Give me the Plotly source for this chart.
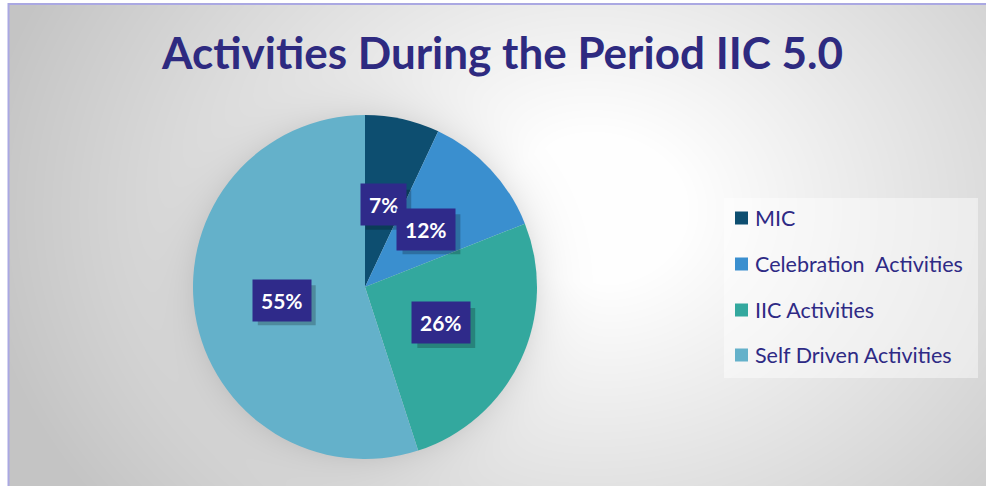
import base64, struct, zlib, math
import numpy as np
import plotly.graph_objects as go

# ---- data ----
categories = ["MIC", "Celebration  Activities", "IIC Activities", "Self Driven Activities"]
values = [7, 12, 26, 55]
colors = ["#0d4e70", "#3a8fcf", "#33a89e", "#64b1ca"]
title_text = "Activities During the Period IIC 5.0"

W, H = 986, 486
# pie geometry (pixels)
CX, CY, R = 365, 287, 172

# ---- background gradient image ----
def make_png(arr):
    h, w, _ = arr.shape
    raw = b"".join(b"\x00" + arr[i].tobytes() for i in range(h))
    def chunk(t, d):
        c = struct.pack(">I", len(d)) + t + d
        return c + struct.pack(">I", zlib.crc32(t + d) & 0xffffffff)
    return (b"\x89PNG\r\n\x1a\n" + chunk(b"IHDR", struct.pack(">IIBBBBB", w, h, 8, 2, 0, 0, 0))
            + chunk(b"IDAT", zlib.compress(raw, 9)) + chunk(b"IEND", b""))

yy, xx = np.mgrid[0:H, 0:W].astype(float)
d = np.sqrt((xx - 590) ** 2 + ((yy - 210) / 0.8) ** 2)
v = 255 - 58 * np.clip((d - 90) / 520, 0, 1)
dp = np.sqrt((xx - CX) ** 2 + (yy - CY) ** 2)
shadow = 0.085 * np.exp(-np.clip(dp - R, 0, None) / 18.0)
v = v * (1 - shadow)
v[:, :9] = 255
v[:3, :] = 255
img = np.clip(np.stack([v, v, v], axis=-1), 0, 255).astype(np.uint8)
uri = "data:image/png;base64," + base64.b64encode(make_png(img)).decode()

fig = go.Figure()
fig.add_trace(go.Pie(
    labels=categories, values=values, sort=False, direction="clockwise", rotation=0,
    marker=dict(colors=colors, line=dict(width=0)), textinfo="none", showlegend=False,
    domain=dict(x=[(CX - R) / W, (CX + R) / W], y=[1 - (CY + R) / H, 1 - (CY - R) / H]),
    hoverinfo="label+percent",
))

shapes = []
annotations = []
# percentage label boxes (drop shadows as shapes, boxes as annotations)
total = sum(values)
cum = 0
for val in values:
    mid = (cum + val / 2) / total * 2 * math.pi
    cum += val
    r = 0.49 * R
    px = CX + r * math.sin(mid)
    py = CY - r * math.cos(mid)
    txt = f"{round(val / total * 100)}%"
    half_w = (12.2 * (len(txt) - 1) + 17.5 + 16) / 2
    half_h = 20
    shapes.append(dict(type="rect", xref="paper", yref="paper", xsizemode="pixel",
                       ysizemode="pixel", xanchor=px / W, yanchor=1 - py / H,
                       x0=-half_w + 5, x1=half_w + 5, y0=-half_h - 5, y1=half_h - 5,
                       fillcolor="rgba(0,0,0,0.22)", line=dict(width=0)))
    annotations.append(dict(x=px / W, y=1 - py / H, xref="paper", yref="paper",
                            text=f"<b>{txt}</b>", showarrow=False, yanchor="middle",
                            xanchor="center",
                            font=dict(family="Lato", size=21, color="white"),
                            bgcolor="#2f2a8a", borderpad=8))

# title
annotations.append(dict(x=502 / W, y=1 - 52 / H, xref="paper", yref="paper",
                        xanchor="center", yanchor="middle",
                        text=f"<b>{title_text}</b>", showarrow=False,
                        font=dict(family="Lato", size=44, color="#2e2a80")))

# legend background
shapes.append(dict(type="rect", xref="paper", yref="paper", x0=724 / W, x1=978 / W,
                   y0=1 - 378 / H, y1=1 - 198 / H, fillcolor="rgba(255,255,255,0.45)",
                   line=dict(width=0), layer="below"))
leg_y = [218, 264, 310, 355]
for i, cat in enumerate(categories):
    shapes.append(dict(type="rect", xref="paper", yref="paper", x0=735 / W, x1=748 / W,
                       y0=1 - (leg_y[i] + 6.5) / H, y1=1 - (leg_y[i] - 6.5) / H,
                       fillcolor=colors[i], line=dict(width=0)))
    annotations.append(dict(x=753 / W, y=1 - leg_y[i] / H, xref="paper", yref="paper",
                            xanchor="left", yanchor="middle",
                            text=cat.replace("  ", "\u00a0 "), showarrow=False,
                            font=dict(family="Lato", size=21.5, color="#2e2a85")))
# border
shapes.append(dict(type="line", xref="paper", yref="paper", x0=8.5 / W, x1=8.5 / W,
                   y0=0, y1=1 - 3 / H, line=dict(color="#aaa8e2", width=2)))
shapes.append(dict(type="line", xref="paper", yref="paper", x0=8 / W, x1=1,
                   y0=1 - 4 / H, y1=1 - 4 / H, line=dict(color="#aaa8e2", width=2)))

fig.update_layout(
    width=W, height=H, margin=dict(l=0, r=0, t=0, b=0),
    paper_bgcolor="white", plot_bgcolor="white",
    images=[dict(source=uri, xref="paper", yref="paper", x=0, y=1, sizex=1, sizey=1,
                 sizing="stretch", xanchor="left", yanchor="top", layer="below")],
    annotations=annotations, shapes=shapes,
)
fig.write_html("out.html", config={"displayModeBar": False},
               post_script="document.body.style.margin='0';")
